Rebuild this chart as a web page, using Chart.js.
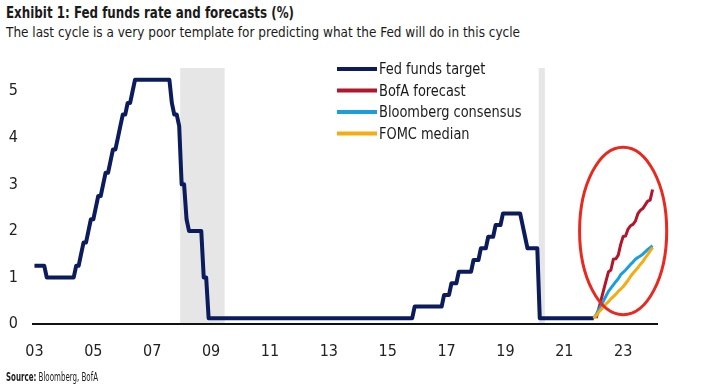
<!DOCTYPE html>
<html>
<head>
<meta charset="utf-8">
<script src="https://cdn.jsdelivr.net/npm/chart.js@4"></script>
<style>
  body { margin: 0; background: #fff; }
  #wrap { position: relative; width: 708px; height: 389px; overflow: hidden; font-family: "Liberation Sans Narrow", "DejaVu Sans Condensed", "Open Sans", sans-serif; color: #1a1a1a; }
  .txt { position: absolute; left: 6px; white-space: nowrap; transform-origin: 0 0; }
  #title { top: 4px; font-size: 15px; font-weight: bold; }
  #subtitle { top: 24px; font-size: 14px; }
  #source { top: 370px; font-size: 12px; }
  canvas { position: absolute; left: 0; top: 0; }
</style>
</head>
<body>
<div id="wrap">
  <div id="title" class="txt" data-w="288">Exhibit 1: Fed funds rate and forecasts (%)</div>
  <div id="subtitle" class="txt" data-w="514">The last cycle is a very poor template for predicting what the Fed will do in this cycle</div>
  <canvas id="myChart" width="708" height="389"></canvas>
  <div id="source" class="txt" data-w="92"><b>Source:</b> Bloomberg, BofA</div>
</div>
<script>
// fed funds target (midpoint of range), month-end value after each change
const fedMonths = ['2003-01', '2003-06', '2004-06', '2004-08', '2004-09', '2004-11', '2004-12',
    '2005-02', '2005-03', '2005-05', '2005-06', '2005-08', '2005-09', '2005-11', '2005-12',
    '2006-01', '2006-03', '2006-05', '2006-06', '2007-09', '2007-10', '2007-12', '2008-01',
    '2008-03', '2008-04', '2008-10', '2008-12', '2015-12', '2016-12', '2017-03', '2017-06',
    '2017-12', '2018-03', '2018-06', '2018-09', '2018-12', '2019-08', '2019-09', '2019-10',
    '2020-03'];
const fedRates = [1.25, 1.00, 1.25, 1.50, 1.75, 2.00, 2.25,
    2.50, 2.75, 3.00, 3.25, 3.50, 3.75, 4.00, 4.25,
    4.50, 4.75, 5.00, 5.25, 4.75, 4.50, 4.25, 3.00,
    2.25, 2.00, 1.00, 0.125, 0.375, 0.625, 0.875, 1.125,
    1.375, 1.625, 1.875, 2.125, 2.375, 2.125, 1.875, 1.625,
    0.125];
const fedLastMonth = '2022-01';

// forecasts, monthly from Jan 2022 to Jan 2024
const forecastMonths = ['2022-01', '2022-02', '2022-03', '2022-04', '2022-05', '2022-06',
    '2022-07', '2022-08', '2022-09', '2022-10', '2022-11', '2022-12',
    '2023-01', '2023-02', '2023-03', '2023-04', '2023-05', '2023-06',
    '2023-07', '2023-08', '2023-09', '2023-10', '2023-11', '2023-12', '2024-01'];
const bofa = [null, 0.125, 0.32, 0.52, 0.72, 0.92, 1.12, 1.16, 1.39, 1.40, 1.48, 1.71,
    1.88, 1.89, 2.04, 2.11, 2.14, 2.21, 2.37, 2.44, 2.48, 2.56, 2.64, 2.66, 2.89];
const bloomberg = [0.125, 0.20, 0.30, 0.40, 0.50, 0.60, 0.70, 0.77, 0.84, 0.91, 0.97, 1.06,
    1.11, 1.16, 1.22, 1.28, 1.33, 1.39, 1.43, 1.46, 1.50, 1.55, 1.60, 1.64, 1.68];
const fomc = [0.125, 0.18, 0.25, 0.31, 0.37, 0.43, 0.48, 0.54, 0.59, 0.64, 0.70, 0.75,
    0.80, 0.87, 0.94, 1.02, 1.09, 1.15, 1.21, 1.28, 1.34, 1.42, 1.49, 1.57, 1.64];

const recessions = [[2007.95, 2009.46], [2020.13, 2020.34]];
const yearTicks = [2003, 2005, 2007, 2009, 2011, 2013, 2015, 2017, 2019, 2021, 2023];

const FONT = '"Liberation Sans Narrow", "DejaVu Sans Condensed", "Open Sans", sans-serif';

// squeeze the header/footer texts to the width they have in the original
document.querySelectorAll('.txt').forEach(el => {
    const w = el.getBoundingClientRect().width;
    el.style.transform = 'scaleX(' + (Number(el.dataset.w) / w) + ')';
});

function toYear(m) {
    const p = m.split('-');
    return Number(p[0]) + (Number(p[1]) - 1) / 12;
}

// monthly line: value holds until the month before each change
let fedPoints = [{x: toYear(fedMonths[0]), y: fedRates[0]}];
for (let i = 1; i < fedMonths.length; i++) {
    fedPoints.push({x: toYear(fedMonths[i]) - 1 / 12, y: fedRates[i - 1]});
    fedPoints.push({x: toYear(fedMonths[i]), y: fedRates[i]});
}
fedPoints.push({x: toYear(fedLastMonth), y: fedRates[fedRates.length - 1]});

function series(vals) {
    let pts = [];
    vals.forEach((v, i) => { if (v !== null) pts.push({x: toYear(forecastMonths[i]), y: v}); });
    return pts;
}

const shading = {
    id: 'shading',
    beforeDatasetsDraw(chart) {
        const {ctx, chartArea, scales: {x}} = chart;
        ctx.save();
        ctx.fillStyle = '#e6e6e6';
        recessions.forEach(r => {
            const a = x.getPixelForValue(r[0]);
            const b = x.getPixelForValue(r[1]);
            ctx.fillRect(a, chartArea.top, b - a, chartArea.bottom - chartArea.top - 1);
        });
        ctx.restore();
    }
};

const circle = {
    id: 'circle',
    afterDatasetsDraw(chart) {
        const {ctx, scales: {x, y}} = chart;
        const cx = x.getPixelForValue(2023.0);
        const cy = y.getPixelForValue(2.0);
        const rx = x.getPixelForValue(2023.0 + 1.48) - cx;
        const ry = cy - y.getPixelForValue(2.0 + 1.8);
        ctx.save();
        ctx.strokeStyle = '#e8291f';
        ctx.lineWidth = 3;
        ctx.beginPath();
        ctx.ellipse(cx, cy, rx, ry, 0, 0, Math.PI * 2);
        ctx.stroke();
        ctx.restore();
    }
};

const legendBox = {
    id: 'legendBox',
    afterDraw(chart) {
        const ctx = chart.ctx;
        ctx.save();
        ctx.font = '16px ' + FONT;
        ctx.textBaseline = 'middle';
        chart.data.datasets.forEach((ds, i) => {
            const ly = 69 + i * 21.5;
            ctx.strokeStyle = ds.borderColor;
            ctx.lineWidth = 4;
            ctx.beginPath();
            ctx.moveTo(337, ly);
            ctx.lineTo(377, ly);
            ctx.stroke();
            ctx.fillStyle = '#1a1a1a';
            ctx.save();
            ctx.translate(379, ly);
            ctx.scale(0.9, 1);
            ctx.fillText(ds.label, 0, 1);
            ctx.restore();
        });
        ctx.restore();
    }
};

const myChart = new Chart(document.getElementById('myChart'), {
    type: 'line',
    data: {
        datasets: [{
            label: 'Fed funds target',
            data: fedPoints,
            borderColor: '#0b1b5c',
            borderWidth: 4,
            order: 3
        }, {
            label: 'BofA forecast',
            data: series(bofa),
            borderColor: '#b3152b',
            borderWidth: 3,
            order: 2
        }, {
            label: 'Bloomberg consensus',
            data: series(bloomberg),
            borderColor: '#1a9fdc',
            borderWidth: 3,
            order: 1
        }, {
            label: 'FOMC median',
            data: series(fomc),
            borderColor: '#f6ab12',
            borderWidth: 3,
            order: 0
        }]
    },
    options: {
        responsive: false,
        animation: false,
        devicePixelRatio: 1,
        layout: {padding: {top: 68, right: 51, left: 0, bottom: 0}},
        elements: {
            point: {radius: 0},
            line: {tension: 0, borderJoinStyle: 'round', borderCapStyle: 'butt'}
        },
        plugins: {
            legend: {display: false},
            tooltip: {enabled: false}
        },
        scales: {
            x: {
                type: 'linear',
                min: 2002.95,
                max: 2024.15,
                grid: {display: false, drawTicks: false},
                border: {display: true, color: '#111', width: 2},
                afterBuildTicks(s) { s.ticks = yearTicks.map(v => ({value: v})); },
                afterFit(s) { s.height = 65; },
                ticks: {
                    padding: 18,
                    color: '#222',
                    font: {family: FONT, size: 16},
                    maxRotation: 0,
                    callback: v => String(v).slice(2)
                }
            },
            y: {
                min: 0,
                max: 5.5,
                grid: {display: false, drawTicks: false},
                border: {display: false},
                afterBuildTicks(s) { s.ticks = [0, 1, 2, 3, 4, 5].map(v => ({value: v})); },
                afterFit(s) { s.width = 33; },
                ticks: {
                    padding: 15,
                    color: '#222',
                    font: {family: FONT, size: 16}
                }
            }
        }
    },
    plugins: [shading, circle, legendBox]
});
</script>
</body>
</html>
